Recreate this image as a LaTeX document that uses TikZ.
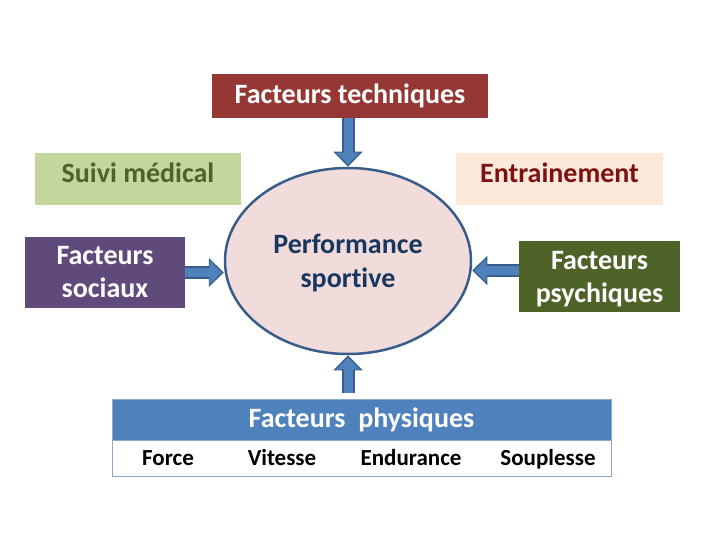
\documentclass[tikz,border=0pt]{standalone}
\usepackage{fontspec}
\setmainfont{Carlito}[Ligatures=NoCommon]
\usetikzlibrary{arrows.meta,shapes.geometric,positioning}
\definecolor{techred}{HTML}{953735}
\definecolor{medfill}{HTML}{C3D69B}
\definecolor{medtext}{HTML}{4F6228}
\definecolor{entrfill}{HTML}{FDE9D9}
\definecolor{entrtext}{HTML}{7F1010}
\definecolor{perffill}{HTML}{F2DCDB}
\definecolor{perftext}{HTML}{17375E}
\definecolor{socfill}{HTML}{604A7B}
\definecolor{psyfill}{HTML}{4F6228}
\definecolor{arrowblue}{HTML}{4F81BD}
\definecolor{arrowedge}{HTML}{385D8A}
\definecolor{tabedge}{HTML}{8EA9C8}
\tikzset{
  box/.style={rectangle, inner sep=0pt, align=center, font=\bfseries\fontsize{28}{33}\selectfont},
  toptext/.style={text depth=12pt},
  bigarrow/.style={draw=arrowedge, line width=13pt,
    -{Triangle[length=15pt,width=29pt,line width=0pt]},
    postaction={draw=arrowblue, line width=9pt, shorten >=2.2pt,
      -{Triangle[length=12pt,width=23.5pt,line width=0pt]}}},
}
\begin{document}
\begin{tikzpicture}[x=1pt, y=-1pt]
  \useasboundingbox (0,0) rectangle (720,540);
  % boxes round the centre
  \node[box, fill=techred, text=white, minimum width=276pt, minimum height=44pt] (tech) at (350,96) {Facteurs techniques};
  \node[box, toptext, fill=medfill, text=medtext, minimum width=206pt, minimum height=52pt] (suivi) at (138,179) {Suivi médical};
  \node[box, toptext, fill=entrfill, text=entrtext, minimum width=207pt, minimum height=52pt] (entr) at (559.5,179) {Entrainement};
  \node[box, fill=socfill, text=white, minimum width=160pt, minimum height=71pt] (soc) at (105,272.5) {Facteurs\\sociaux};
  \node[box, text depth=0pt, fill=psyfill, text=white, minimum width=161pt, minimum height=71pt] (psy) at (599.5,276.5) {Facteurs\\psychiques};
  \node[ellipse, draw=arrowedge, line width=2.5pt, fill=perffill, minimum width=246pt, minimum height=186pt,
    inner sep=0pt, align=center, text depth=0pt, text=perftext, font=\bfseries\fontsize{28}{34}\selectfont] (perf) at (348,261) {Performance\\sportive};
  % table of physical factors
  \node[box, fill=arrowblue, text=white, draw=tabedge, minimum width=499pt, minimum height=41pt] (phys) at (361.5,419.5) {Facteurs\ \ physiques};
  \node[draw=tabedge, minimum width=499pt, minimum height=36pt, inner sep=0pt, below=0pt of phys] (row) {};
  \foreach \x/\t in {168/Force, 282/Vitesse, 411/Endurance, 548/Souplesse}
    \node[anchor=base, font=\bfseries\fontsize{23}{26}\selectfont] (q\x) at (\x,465) {\t};
  % arrows
  \draw[bigarrow] (tech.south -| perf.north) -- (perf.north);
  \draw[bigarrow] (soc.east) -- (soc.east -| perf.west);
  \draw[bigarrow] ([yshift=6pt]psy.west) -- ([yshift=6pt]psy.west -| perf.east);
  \draw[bigarrow, shorten <=6pt] (phys.north -| perf.south) -- (perf.south);
\end{tikzpicture}
\end{document}
